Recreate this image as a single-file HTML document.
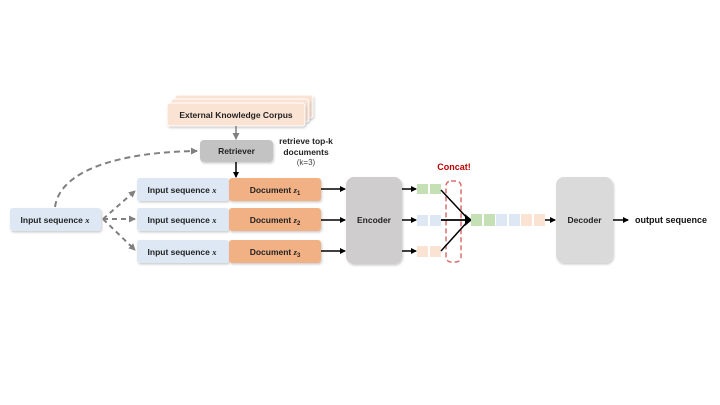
<!DOCTYPE html>
<html><head><meta charset="utf-8"><style>
html,body{margin:0;padding:0;background:#fff;}
svg{display:block;font-family:"Liberation Sans",sans-serif;}
.t{font-size:8.5px;font-weight:bold;fill:#222;}
</style></head><body>
<svg width="720" height="405" viewBox="0 0 720 405" xmlns="http://www.w3.org/2000/svg">
<defs>
<marker id="ab" markerWidth="6" markerHeight="6" refX="5" refY="3" orient="auto" markerUnits="userSpaceOnUse"><path d="M0,0 L6,3 L0,6 z" fill="#000"/></marker>
<marker id="ag" markerWidth="7" markerHeight="7" refX="6" refY="3.5" orient="auto" markerUnits="userSpaceOnUse"><path d="M0,0 L7,3.5 L0,7 z" fill="#808080"/></marker>
<filter id="sh" x="-10%" y="-10%" width="130%" height="140%"><feDropShadow dx="1" dy="1.5" stdDeviation="1" flood-color="#000" flood-opacity="0.2"/></filter>
</defs>
<!-- corpus stack -->
<rect x="175" y="95" width="138" height="23" rx="3" fill="#fbe3d4" stroke="#fff" filter="url(#sh)"/>
<rect x="171" y="99" width="138" height="23" rx="3" fill="#fbe3d4" stroke="#fff" filter="url(#sh)"/>
<rect x="167" y="103" width="138" height="23" rx="3" fill="#fbe3d4" stroke="#fff" filter="url(#sh)"/>
<text x="236" y="118" class="t" text-anchor="middle">External Knowledge Corpus</text>
<line x1="236" y1="126" x2="236" y2="139" stroke="#808080" stroke-width="1.5" marker-end="url(#ag)"/>
<!-- retriever -->
<rect x="200" y="140" width="73" height="22" rx="4" fill="#c3c3c3" filter="url(#sh)"/>
<text x="236.5" y="154" class="t" text-anchor="middle">Retriever</text>
<line x1="236" y1="162" x2="236" y2="177" stroke="#000" stroke-width="1.5" marker-end="url(#ab)"/>
<text x="306" y="144" class="t" font-size="9" text-anchor="middle">retrieve top-k</text>
<text x="306" y="155" class="t" font-size="9" text-anchor="middle">documents</text>
<text x="306" y="165" font-size="8" fill="#444" text-anchor="middle">(k=3)</text>
<!-- left input -->
<rect x="10" y="208" width="91" height="23" rx="3" fill="#dde8f4" filter="url(#sh)"/>
<text x="55" y="223" class="t" text-anchor="middle">Input sequence <tspan font-family="Liberation Serif" font-style="italic">x</tspan></text>
<!-- dashed arrows -->
<path d="M55,207 C60,170 120,152 197,151" fill="none" stroke="#808080" stroke-width="2" stroke-dasharray="6,4" marker-end="url(#ag)"/>
<path d="M103,219 L135,191" fill="none" stroke="#808080" stroke-width="2" stroke-dasharray="5,4" marker-end="url(#ag)"/>
<path d="M103,219 L135,219" fill="none" stroke="#808080" stroke-width="2" stroke-dasharray="5,4" marker-end="url(#ag)"/>
<path d="M103,219 L135,250" fill="none" stroke="#808080" stroke-width="2" stroke-dasharray="5,4" marker-end="url(#ag)"/>
<!-- rows -->
<g>
<rect x="137" y="178" width="92" height="23" rx="3" fill="#dde8f4" filter="url(#sh)"/>
<rect x="229" y="178" width="92" height="23" rx="3" fill="#f2b184" filter="url(#sh)"/>
<text x="182" y="193" class="t" text-anchor="middle">Input sequence <tspan font-family="Liberation Serif" font-style="italic">x</tspan></text>
<text x="275" y="193" class="t" text-anchor="middle">Document <tspan font-family="Liberation Serif" font-style="italic">z</tspan><tspan font-size="6" dy="2">1</tspan></text>
<rect x="137" y="208" width="92" height="23" rx="3" fill="#dde8f4" filter="url(#sh)"/>
<rect x="229" y="208" width="92" height="23" rx="3" fill="#f2b184" filter="url(#sh)"/>
<text x="182" y="223" class="t" text-anchor="middle">Input sequence <tspan font-family="Liberation Serif" font-style="italic">x</tspan></text>
<text x="275" y="223" class="t" text-anchor="middle">Document <tspan font-family="Liberation Serif" font-style="italic">z</tspan><tspan font-size="6" dy="2">2</tspan></text>
<rect x="137" y="240" width="92" height="23" rx="3" fill="#dde8f4" filter="url(#sh)"/>
<rect x="229" y="240" width="92" height="23" rx="3" fill="#f2b184" filter="url(#sh)"/>
<text x="182" y="255" class="t" text-anchor="middle">Input sequence <tspan font-family="Liberation Serif" font-style="italic">x</tspan></text>
<text x="275" y="255" class="t" text-anchor="middle">Document <tspan font-family="Liberation Serif" font-style="italic">z</tspan><tspan font-size="6" dy="2">3</tspan></text>
</g>
<line x1="321" y1="189" x2="345" y2="189" stroke="#000" stroke-width="1.5" marker-end="url(#ab)"/>
<line x1="321" y1="220" x2="345" y2="220" stroke="#000" stroke-width="1.5" marker-end="url(#ab)"/>
<line x1="321" y1="251" x2="345" y2="251" stroke="#000" stroke-width="1.5" marker-end="url(#ab)"/>
<!-- encoder -->
<rect x="346" y="177" width="56" height="87" rx="8" fill="#cfcdcd" filter="url(#sh)"/>
<text x="374" y="223" class="t" text-anchor="middle">Encoder</text>
<line x1="402" y1="189" x2="416" y2="189" stroke="#000" stroke-width="1.5" marker-end="url(#ab)"/>
<line x1="402" y1="220" x2="416" y2="220" stroke="#000" stroke-width="1.5" marker-end="url(#ab)"/>
<line x1="402" y1="251" x2="416" y2="251" stroke="#000" stroke-width="1.5" marker-end="url(#ab)"/>
<!-- small vectors -->
<rect x="417" y="184" width="11" height="10" fill="#c5e0b4"/><rect x="430" y="184" width="11" height="10" fill="#c5e0b4"/>
<rect x="417" y="215" width="11" height="11" fill="#dde8f4"/><rect x="430" y="215" width="11" height="11" fill="#dde8f4"/>
<rect x="417" y="246" width="11" height="11" fill="#fbe3d4"/><rect x="430" y="246" width="11" height="11" fill="#fbe3d4"/>
<text x="454" y="170" font-size="9" font-weight="bold" fill="#c00000" text-anchor="middle">Concat!</text>
<rect x="446" y="181" width="15" height="81" rx="5" fill="none" stroke="#d87070" stroke-width="1.5" stroke-dasharray="5,3"/>
<line x1="441" y1="190" x2="469" y2="220" stroke="#000" stroke-width="1.5"/>
<line x1="441" y1="220" x2="469" y2="220" stroke="#000" stroke-width="1.8"/>
<line x1="441" y1="251" x2="469" y2="220" stroke="#000" stroke-width="1.5"/>
<path d="M465,214 L472,220 L465,226 z" fill="#000"/>
<!-- concat vector -->
<rect x="471" y="214" width="11" height="12" fill="#c5e0b4"/><rect x="484" y="214" width="11" height="12" fill="#c5e0b4"/>
<rect x="496" y="214" width="11" height="12" fill="#dde8f4"/><rect x="509" y="214" width="11" height="12" fill="#dde8f4"/>
<rect x="521" y="214" width="11" height="12" fill="#fbe3d4"/><rect x="534" y="214" width="11" height="12" fill="#fbe3d4"/>
<line x1="545" y1="220" x2="555" y2="220" stroke="#000" stroke-width="1.5" marker-end="url(#ab)"/>
<!-- decoder -->
<rect x="556" y="177" width="57" height="86" rx="8" fill="#dadada" filter="url(#sh)"/>
<text x="584.5" y="223" class="t" text-anchor="middle">Decoder</text>
<line x1="613" y1="220" x2="628" y2="220" stroke="#000" stroke-width="1.5" marker-end="url(#ab)"/>
<text x="635" y="223" font-size="9" font-weight="bold" fill="#111">output sequence</text>
</svg>
</body></html>
